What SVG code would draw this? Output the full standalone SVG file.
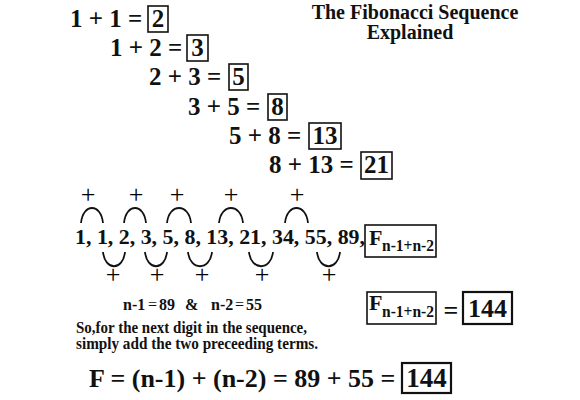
<svg xmlns="http://www.w3.org/2000/svg" width="580" height="400" viewBox="0 0 580 400">
<style>
text{font-family:"Liberation Serif","Times New Roman",serif;fill:#111}
.b{font-weight:bold}
.eq{font-size:25px;font-weight:bold}
.bx{fill:none;stroke:#111;stroke-width:1.6}
.bx2{fill:none;stroke:#111;stroke-width:2.2}
.arc{fill:none;stroke:#111;stroke-width:1.8}
.pl{font-size:26px;text-anchor:middle;fill:#000}
.m{text-anchor:middle}
</style>
<rect width="580" height="400" fill="#fff"/>
<g id="title">
<text class="b m" x="415" y="19" font-size="20">The Fibonacci Sequence</text>
<text class="b m" x="410" y="39" font-size="20">Explained</text>
</g>
<g id="eq1"><text class="eq" x="70" y="27">1 + 1 =</text><rect class="bx" x="148" y="6" width="20" height="26"/><text class="eq m" x="158" y="27">2</text></g>
<g id="eq2"><text class="eq" x="110" y="56">1 + 2 =</text><rect class="bx" x="187" y="35" width="21" height="26"/><text class="eq m" x="197.5" y="56">3</text></g>
<g id="eq3"><text class="eq" x="149" y="85">2 + 3 =</text><rect class="bx" x="229" y="64" width="19" height="26"/><text class="eq m" x="238.5" y="85">5</text></g>
<g id="eq4"><text class="eq" x="188" y="115">3 + 5 =</text><rect class="bx" x="268" y="94" width="19" height="26"/><text class="eq m" x="277.5" y="115">8</text></g>
<g id="eq5"><text class="eq" x="229" y="144">5 + 8 =</text><rect class="bx" x="309" y="123" width="32" height="26"/><text class="eq m" x="325" y="144">13</text></g>
<g id="eq6"><text class="eq" x="269" y="173">8 + 13 =</text><rect class="bx" x="361" y="152" width="31" height="27"/><text class="eq m" x="376.5" y="173">21</text></g>
<g id="sequence">
<text class="b" x="75" y="244" font-size="22" textLength="290" lengthAdjust="spacingAndGlyphs">1, 1, 2, 3, 5, 8, 13, 21, 34, 55, 89,</text>
<rect class="bx" x="365" y="225" width="71" height="32"/>
<text class="b" x="369" y="245" font-size="22">F</text>
<text class="b" x="382" y="251" font-size="16" textLength="52" lengthAdjust="spacingAndGlyphs">n-1+n-2</text>
</g>
<g id="connectors">
<path class="arc" d="M81,223 C83,203 101,203 103,223"/>
<path class="arc" d="M124,223 C126,203 144,203 146,223"/>
<path class="arc" d="M167,223 C169,203 189,203 191,223"/>
<path class="arc" d="M219,223 C221,203 241,203 243,223"/>
<path class="arc" d="M285,223 C287,203 306,203 308,223"/>
<path class="arc" d="M103,252 C105,271 123,271 125,252"/>
<path class="arc" d="M145,252 C147,271 165,271 167,252"/>
<path class="arc" d="M188,252 C190,271 210,271 212,252"/>
<path class="arc" d="M249,252 C251,271 271,271 273,252"/>
<path class="arc" d="M317,252 C319,271 338,271 340,252"/>
<text class="pl" x="88" y="203">+</text>
<text class="pl" x="136" y="203">+</text>
<text class="pl" x="177" y="203">+</text>
<text class="pl" x="231" y="203">+</text>
<text class="pl" x="297" y="203">+</text>
<text class="pl" x="113" y="283">+</text>
<text class="pl" x="157" y="283">+</text>
<text class="pl" x="202" y="283">+</text>
<text class="pl" x="262" y="283">+</text>
<text class="pl" x="329" y="283">+</text>
</g>
<g id="values">
<text class="b" x="123" y="310" font-size="16">n-1</text>
<text x="148" y="310" font-size="16">=</text>
<text class="b" x="159" y="310" font-size="16">89</text>
<text class="b" x="185" y="310" font-size="16">&amp;</text>
<text class="b" x="211" y="310" font-size="16">n-2</text>
<text x="235" y="310" font-size="16">=</text>
<text class="b" x="246" y="310" font-size="16">55</text>
</g>
<g id="explanation">
<text class="b" x="76" y="333" font-size="16" textLength="231" lengthAdjust="spacingAndGlyphs">So,for the next digit in the sequence,</text>
<text class="b" x="76" y="349" font-size="16" textLength="242" lengthAdjust="spacingAndGlyphs">simply add the two preceeding terms.</text>
</g>
<g id="result">
<rect class="bx" x="367" y="292" width="69" height="32"/>
<text class="b" x="369" y="310" font-size="22">F</text>
<text class="b" x="382" y="317" font-size="16" textLength="52" lengthAdjust="spacingAndGlyphs">n-1+n-2</text>
<text class="b m" x="451" y="319" font-size="26">=</text>
<rect class="bx2" x="463" y="292" width="49" height="32"/>
<text class="b m" x="487.5" y="317" font-size="26">144</text>
</g>
<g id="formula">
<text class="b" x="89" y="387" font-size="26">F = (n-1) + (n-2) = 89 + 55 =</text>
<rect class="bx2" x="402" y="363" width="49" height="30"/>
<text class="b m" x="426.5" y="387" font-size="27">144</text>
</g>
</svg>
